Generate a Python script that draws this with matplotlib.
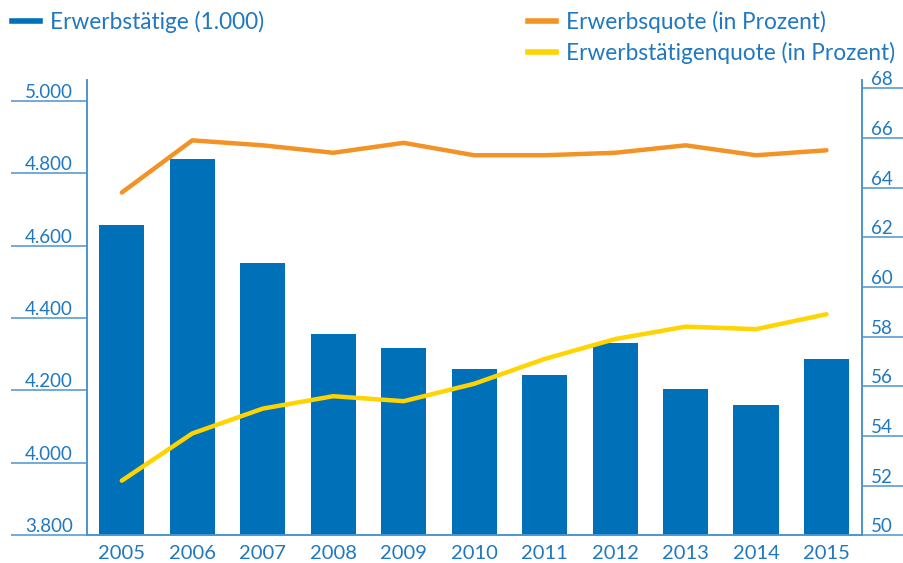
# Erwerbstätige, Erwerbsquote und Erwerbstätigenquote 2005-2015
import numpy as np
import matplotlib
matplotlib.use('Agg')
import matplotlib.pyplot as plt
from matplotlib.lines import Line2D

plt.rcParams['font.family'] = ['Lato', 'DejaVu Sans']

# Daten
jahre = ['2005', '2006', '2007', '2008', '2009', '2010',
         '2011', '2012', '2013', '2014', '2015']
erwerbstaetige = [4656, 4839, 4552, 4356, 4318, 4258,
                  4243, 4330, 4205, 4159, 4288]
erwerbsquote = [63.8, 65.9, 65.7, 65.4, 65.8, 65.3,
                65.3, 65.4, 65.7, 65.3, 65.5]
erwerbstaetigenquote = [52.2, 54.1, 55.1, 55.6, 55.4, 56.1,
                        57.1, 57.9, 58.4, 58.3, 58.9]

links_ticks = [3800, 4000, 4200, 4400, 4600, 4800, 5000]
links_labels = ['3.800', '4.000', '4.200', '4.400', '4.600', '4.800', '5.000']
rechts_ticks = [50, 52, 54, 56, 58, 60, 62, 64, 66, 68]

# Farben
blau = '#0070b8'
orange = '#f39325'
gelb = '#ffd400'
textblau = '#1f78c1'
linienblau = '#4a94d2'

fig = plt.figure(figsize=(9.04, 5.63), dpi=100)
ax = fig.add_axes([87/904, 27.7/563, 775/904, 455.3/563])
ax2 = ax.twinx()

x = np.arange(len(jahre))
ax.bar(x, erwerbstaetige, width=0.64, color=blau, zorder=2)
ax2.plot(x, erwerbsquote, color=orange, lw=3.2, solid_capstyle='round')
ax2.plot(x, erwerbstaetigenquote, color=gelb, lw=3.2, solid_capstyle='round')

ax.set_xlim(-0.494, 10.504)
ax.set_ylim(3800, 5057)
ax2.set_ylim(50, 68.33)

ax.set_xticks(x)
ax.set_xticklabels(jahre, fontsize=14.5, color=textblau)
ax.tick_params(axis='x', length=0, pad=7)

ax.set_yticks(links_ticks)
ax.set_yticklabels(links_labels, fontsize=13.5, color=textblau, va='bottom')
ax.tick_params(axis='y', length=55, width=1.1, color=linienblau, pad=-45)

ax2.set_yticks(rechts_ticks)
ax2.set_yticklabels([str(t) for t in rechts_ticks], fontsize=13.5,
                    color=textblau, va='bottom')
ax2.tick_params(axis='y', length=32, width=1.1, color=linienblau, pad=-25.5)

for a in (ax, ax2):
    a.spines['top'].set_visible(False)
    for s in ('left', 'right', 'bottom'):
        a.spines[s].set_color(linienblau)
        a.spines[s].set_linewidth(1.2)

# Legenden
h1 = [Line2D([], [], color=blau, lw=4)]
fig.legend(h1, ['Erwerbstätige (1.000)'], loc='upper left',
           bbox_to_anchor=(11.7/904, 0.981), frameon=False, fontsize=16.3,
           labelcolor=textblau, handlelength=1.23, handletextpad=0.45,
           borderpad=0, borderaxespad=0)
h2 = [Line2D([], [], color=orange, lw=4), Line2D([], [], color=gelb, lw=4)]
fig.legend(h2, ['Erwerbsquote (in Prozent)', 'Erwerbstätigenquote (in Prozent)'],
           loc='upper left', bbox_to_anchor=(528/904, 0.981), frameon=False,
           fontsize=16.3, labelcolor=textblau, handlelength=1.23,
           handletextpad=0.45, labelspacing=0.4, borderpad=0, borderaxespad=0)

fig.savefig('out.png', dpi=100)
